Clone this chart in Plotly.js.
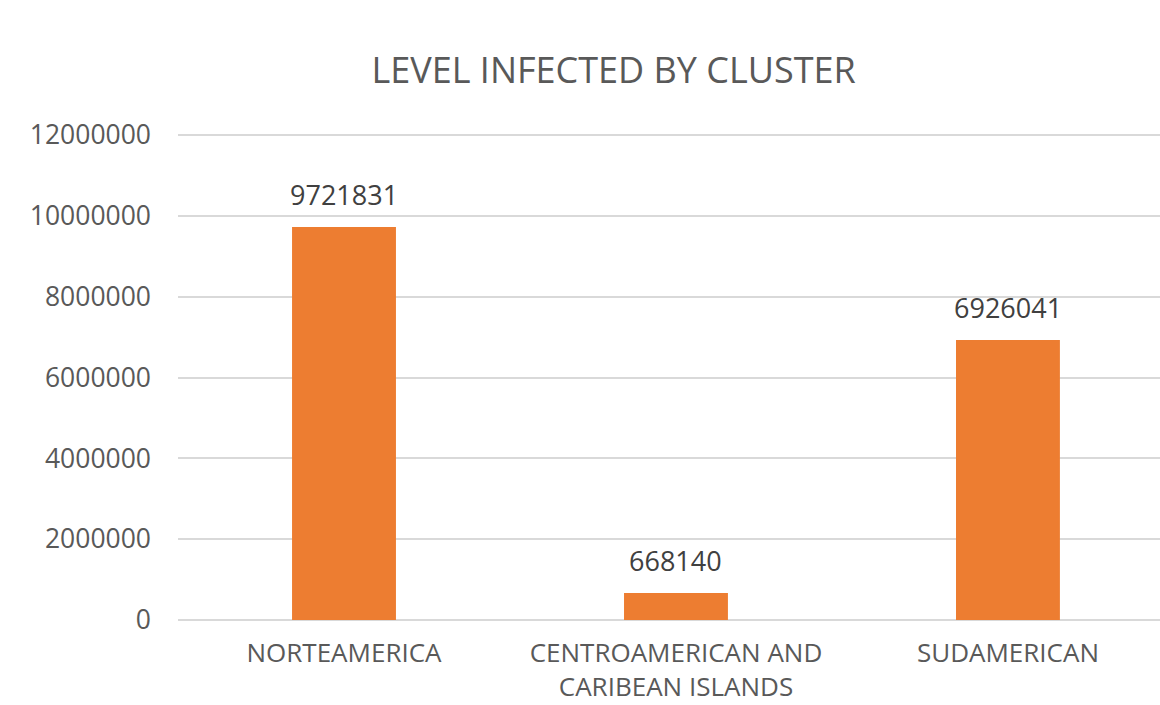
<!DOCTYPE html>
<html>
<head>
<meta charset="utf-8">
<script src="https://cdn.plot.ly/plotly-3.0.1.min.js"></script>
<style>html,body{margin:0;padding:0;overflow:hidden;background:#fff;}</style>
</head>
<body>
<div id="chart" style="width:1160px;height:705px;"></div>
<script>
const categories = ["NORTEAMERICA", "CENTROAMERICAN AND<br>CARIBEAN ISLANDS", "SUDAMERICAN"];
const infected = [9721831, 668140, 6926041];
const yTicks = [0, 2000000, 4000000, 6000000, 8000000, 10000000, 12000000];
const chartTitle = "LEVEL INFECTED BY CLUSTER";

const FONT = '"Open Sans", "Liberation Sans", sans-serif';
const idx = categories.map((c, i) => i);

const trace = {
  type: 'bar',
  x: idx,
  y: infected,
  width: 0.313,
  marker: {color: '#ED7D31'},
  hoverinfo: 'x+y',
  cliponaxis: false
};

const annotations = infected.map((v, i) => ({
  x: i, y: v, xref: 'x', yref: 'y',
  text: String(v),
  showarrow: false,
  yanchor: 'bottom',
  yshift: 12,
  font: {family: FONT, size: 27, color: '#404040'}
}));

const layout = {
  width: 1160, height: 705,
  margin: {l: 178, r: 0, t: 131, b: 85},
  paper_bgcolor: '#ffffff',
  plot_bgcolor: '#ffffff',
  showlegend: false,
  title: {
    text: chartTitle,
    x: 0.529, xanchor: 'center',
    y: 0.9, yref: 'container', yanchor: 'middle',
    font: {family: FONT, size: 36, color: '#595959'}
  },
  xaxis: {
    type: 'linear',
    range: [-0.5, 2.458],
    tickvals: idx,
    ticktext: categories,
    showgrid: false,
    zeroline: false,
    showline: false,
    ticks: '',
    ticklabelstandoff: 15,
    tickfont: {family: FONT, size: 26, color: '#595959'}
  },
  yaxis: {
    range: [0, 12098969],
    tickvals: yTicks,
    ticktext: yTicks.map(String),
    showgrid: true,
    gridcolor: '#d9d9d9',
    gridwidth: 2,
    zeroline: true,
    zerolinecolor: '#d9d9d9',
    zerolinewidth: 2,
    showline: false,
    ticks: '',
    ticklabelstandoff: 26,
    tickfont: {family: FONT, size: 26.5, color: '#595959'}
  },
  annotations: annotations
};

Plotly.newPlot('chart', [trace], layout, {displayModeBar: false});
</script>
</body>
</html>
